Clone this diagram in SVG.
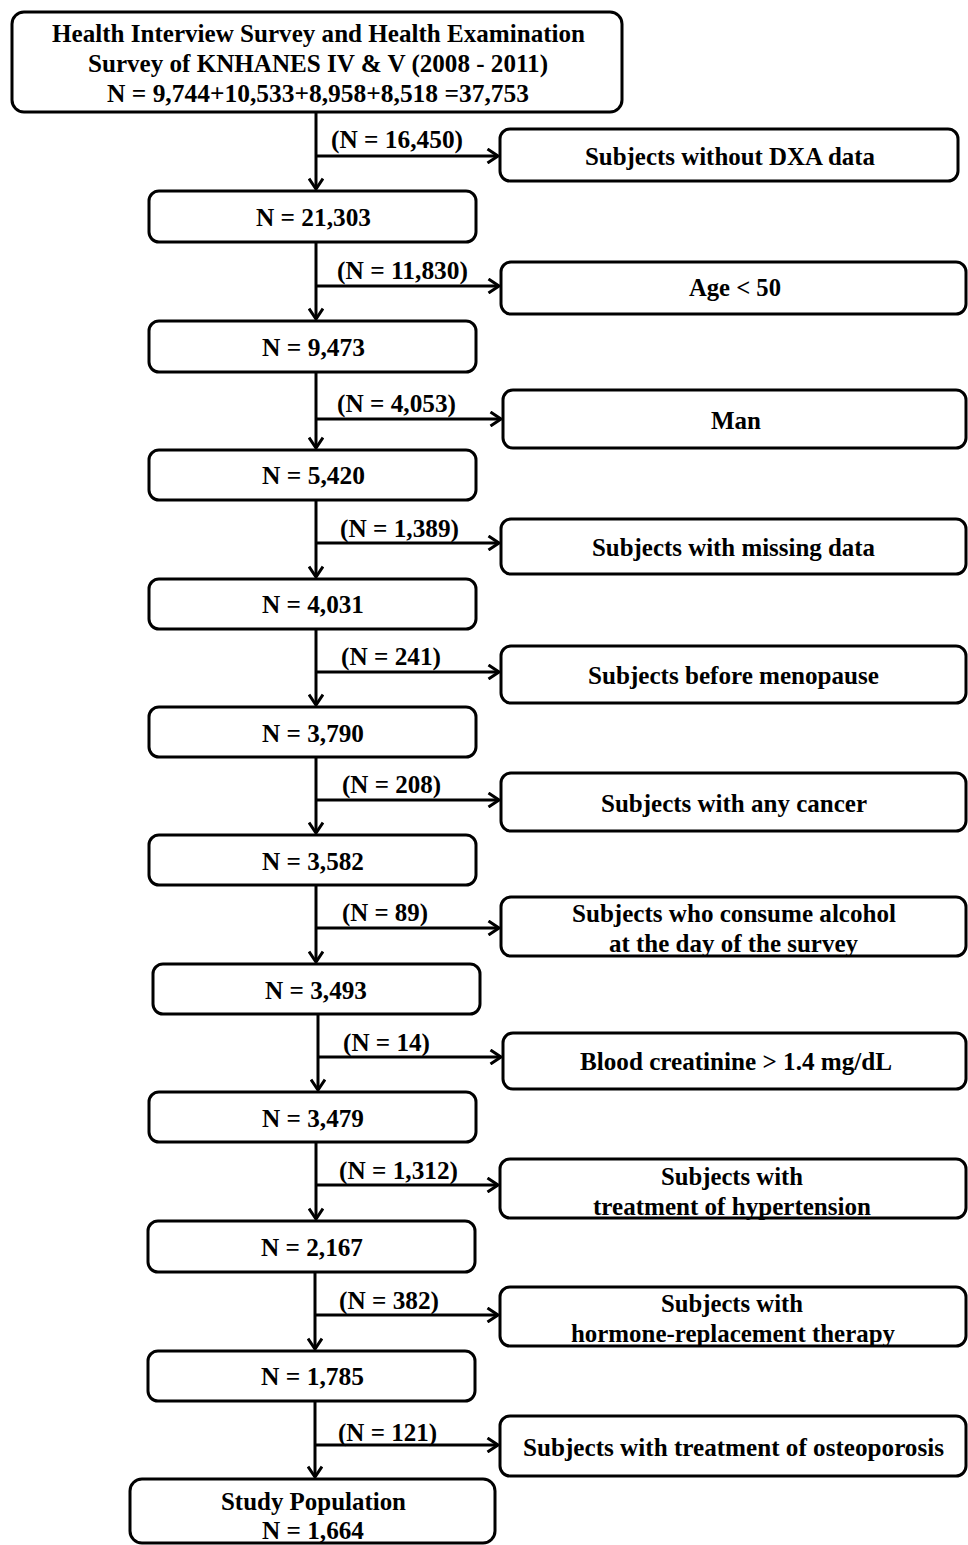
<svg xmlns="http://www.w3.org/2000/svg" width="968" height="1545" viewBox="0 0 968 1545">
<style>
.box{fill:#fff;stroke:#000;stroke-width:3}
.ln{stroke:#000;stroke-width:3;fill:none}
text{font-family:"Liberation Serif","Times New Roman",serif;font-weight:bold;font-size:25px;fill:#000}
</style>
<defs>
<marker id="ah" viewBox="0 0 14 16" refX="12" refY="8" markerWidth="14" markerHeight="16" markerUnits="userSpaceOnUse" orient="auto">
<path d="M1.5,1 L12,8 L1.5,15" fill="none" stroke="#000" stroke-width="3"/>
</marker>
</defs>
<rect width="968" height="1545" fill="#fff"/>
<g id="connectors">
<line class="ln" x1="316" y1="112" x2="316" y2="189" marker-end="url(#ah)"/>
<line class="ln" x1="316" y1="156" x2="498" y2="156" marker-end="url(#ah)"/>
<line class="ln" x1="316" y1="242" x2="316" y2="319" marker-end="url(#ah)"/>
<line class="ln" x1="316" y1="286" x2="499" y2="286" marker-end="url(#ah)"/>
<line class="ln" x1="316" y1="372" x2="316" y2="448" marker-end="url(#ah)"/>
<line class="ln" x1="316" y1="419" x2="501" y2="419" marker-end="url(#ah)"/>
<line class="ln" x1="316" y1="500" x2="316" y2="577" marker-end="url(#ah)"/>
<line class="ln" x1="316" y1="543" x2="499" y2="543" marker-end="url(#ah)"/>
<line class="ln" x1="316" y1="629" x2="316" y2="705" marker-end="url(#ah)"/>
<line class="ln" x1="316" y1="672" x2="499" y2="672" marker-end="url(#ah)"/>
<line class="ln" x1="316" y1="757" x2="316" y2="833" marker-end="url(#ah)"/>
<line class="ln" x1="316" y1="800" x2="499" y2="800" marker-end="url(#ah)"/>
<line class="ln" x1="316" y1="885" x2="316" y2="962" marker-end="url(#ah)"/>
<line class="ln" x1="316" y1="928" x2="499" y2="928" marker-end="url(#ah)"/>
<line class="ln" x1="318" y1="1014" x2="318" y2="1090" marker-end="url(#ah)"/>
<line class="ln" x1="318" y1="1057" x2="501" y2="1057" marker-end="url(#ah)"/>
<line class="ln" x1="316" y1="1142" x2="316" y2="1219" marker-end="url(#ah)"/>
<line class="ln" x1="316" y1="1185" x2="498" y2="1185" marker-end="url(#ah)"/>
<line class="ln" x1="315" y1="1272" x2="315" y2="1349" marker-end="url(#ah)"/>
<line class="ln" x1="315" y1="1315" x2="498" y2="1315" marker-end="url(#ah)"/>
<line class="ln" x1="315" y1="1401" x2="315" y2="1477" marker-end="url(#ah)"/>
<line class="ln" x1="315" y1="1445" x2="498" y2="1445" marker-end="url(#ah)"/>
<text x="331" y="148" textLength="132" lengthAdjust="spacingAndGlyphs">(N = 16,450)</text>
<text x="337" y="279" textLength="131" lengthAdjust="spacingAndGlyphs">(N = 11,830)</text>
<text x="337" y="412" textLength="119" lengthAdjust="spacingAndGlyphs">(N = 4,053)</text>
<text x="340" y="537" textLength="119" lengthAdjust="spacingAndGlyphs">(N = 1,389)</text>
<text x="341" y="665" textLength="100" lengthAdjust="spacingAndGlyphs">(N = 241)</text>
<text x="342" y="793" textLength="99" lengthAdjust="spacingAndGlyphs">(N = 208)</text>
<text x="342" y="921" textLength="86" lengthAdjust="spacingAndGlyphs">(N = 89)</text>
<text x="343" y="1051" textLength="87" lengthAdjust="spacingAndGlyphs">(N = 14)</text>
<text x="339" y="1179" textLength="119" lengthAdjust="spacingAndGlyphs">(N = 1,312)</text>
<text x="339" y="1309" textLength="100" lengthAdjust="spacingAndGlyphs">(N = 382)</text>
<text x="338" y="1441" textLength="99" lengthAdjust="spacingAndGlyphs">(N = 121)</text>
</g>
<g id="n0"><rect class="box" x="12" y="12" width="610" height="100" rx="12"/>
<text x="52" y="42" textLength="533" lengthAdjust="spacingAndGlyphs">Health Interview Survey and Health Examination</text>
<text x="88" y="72" textLength="460" lengthAdjust="spacingAndGlyphs">Survey of KNHANES IV &amp; V (2008 - 2011)</text>
<text x="107" y="102" textLength="422" lengthAdjust="spacingAndGlyphs">N = 9,744+10,533+8,958+8,518 =37,753</text></g>
<g id="x1"><rect class="box" x="500" y="129" width="458" height="52" rx="10"/>
<text x="585" y="165" textLength="290" lengthAdjust="spacingAndGlyphs">Subjects without DXA data</text></g>
<g id="n1"><rect class="box" x="149" y="191" width="327" height="51" rx="10"/>
<text x="256" y="226" textLength="115" lengthAdjust="spacingAndGlyphs">N = 21,303</text></g>
<g id="x2"><rect class="box" x="501" y="262" width="465" height="52" rx="10"/>
<text x="689" y="296" textLength="92" lengthAdjust="spacingAndGlyphs">Age &lt; 50</text></g>
<g id="n2"><rect class="box" x="149" y="321" width="327" height="51" rx="10"/>
<text x="262" y="356" textLength="103" lengthAdjust="spacingAndGlyphs">N = 9,473</text></g>
<g id="x3"><rect class="box" x="503" y="390" width="463" height="58" rx="10"/>
<text x="711" y="429" textLength="50" lengthAdjust="spacingAndGlyphs">Man</text></g>
<g id="n3"><rect class="box" x="149" y="450" width="327" height="50" rx="10"/>
<text x="262" y="484" textLength="103" lengthAdjust="spacingAndGlyphs">N = 5,420</text></g>
<g id="x4"><rect class="box" x="501" y="519" width="465" height="55" rx="10"/>
<text x="592" y="556" textLength="283" lengthAdjust="spacingAndGlyphs">Subjects with missing data</text></g>
<g id="n4"><rect class="box" x="149" y="579" width="327" height="50" rx="10"/>
<text x="262" y="613" textLength="102" lengthAdjust="spacingAndGlyphs">N = 4,031</text></g>
<g id="x5"><rect class="box" x="501" y="646" width="465" height="57" rx="10"/>
<text x="588" y="684" textLength="291" lengthAdjust="spacingAndGlyphs">Subjects before menopause</text></g>
<g id="n5"><rect class="box" x="149" y="707" width="327" height="50" rx="10"/>
<text x="262" y="742" textLength="102" lengthAdjust="spacingAndGlyphs">N = 3,790</text></g>
<g id="x6"><rect class="box" x="501" y="773" width="465" height="58" rx="10"/>
<text x="601" y="812" textLength="266" lengthAdjust="spacingAndGlyphs">Subjects with any cancer</text></g>
<g id="n6"><rect class="box" x="149" y="835" width="327" height="50" rx="10"/>
<text x="262" y="870" textLength="102" lengthAdjust="spacingAndGlyphs">N = 3,582</text></g>
<g id="x7"><rect class="box" x="501" y="897" width="465" height="59" rx="10"/>
<text x="572" y="922" textLength="324" lengthAdjust="spacingAndGlyphs">Subjects who consume alcohol</text>
<text x="609" y="952" textLength="249" lengthAdjust="spacingAndGlyphs">at the day of the survey</text></g>
<g id="n7"><rect class="box" x="153" y="964" width="327" height="50" rx="10"/>
<text x="265" y="999" textLength="102" lengthAdjust="spacingAndGlyphs">N = 3,493</text></g>
<g id="x8"><rect class="box" x="503" y="1033" width="463" height="56" rx="10"/>
<text x="580" y="1070" textLength="312" lengthAdjust="spacingAndGlyphs">Blood creatinine &gt; 1.4 mg/dL</text></g>
<g id="n8"><rect class="box" x="149" y="1092" width="327" height="50" rx="10"/>
<text x="262" y="1127" textLength="102" lengthAdjust="spacingAndGlyphs">N = 3,479</text></g>
<g id="x9"><rect class="box" x="500" y="1159" width="466" height="59" rx="10"/>
<text x="661" y="1185" textLength="142" lengthAdjust="spacingAndGlyphs">Subjects with</text>
<text x="593" y="1215" textLength="278" lengthAdjust="spacingAndGlyphs">treatment of hypertension</text></g>
<g id="n9"><rect class="box" x="148" y="1221" width="327" height="51" rx="10"/>
<text x="261" y="1256" textLength="102" lengthAdjust="spacingAndGlyphs">N = 2,167</text></g>
<g id="x10"><rect class="box" x="500" y="1287" width="466" height="59" rx="10"/>
<text x="661" y="1312" textLength="142" lengthAdjust="spacingAndGlyphs">Subjects with</text>
<text x="571" y="1342" textLength="324" lengthAdjust="spacingAndGlyphs">hormone-replacement therapy</text></g>
<g id="n10"><rect class="box" x="148" y="1351" width="327" height="50" rx="10"/>
<text x="261" y="1385" textLength="103" lengthAdjust="spacingAndGlyphs">N = 1,785</text></g>
<g id="x11"><rect class="box" x="500" y="1416" width="466" height="60" rx="10"/>
<text x="523" y="1456" textLength="421" lengthAdjust="spacingAndGlyphs">Subjects with treatment of osteoporosis</text></g>
<g id="n11"><rect class="box" x="130" y="1479" width="365" height="64" rx="12"/>
<text x="221" y="1510" textLength="185" lengthAdjust="spacingAndGlyphs">Study Population</text>
<text x="262" y="1539" textLength="102" lengthAdjust="spacingAndGlyphs">N = 1,664</text></g>
</svg>
